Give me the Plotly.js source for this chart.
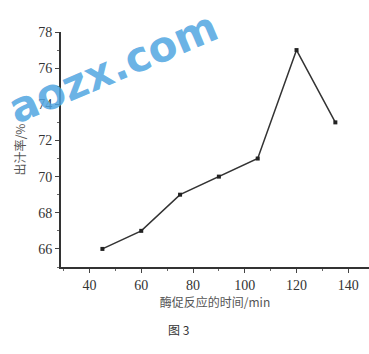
<!DOCTYPE html>
<html>
<head>
<meta charset="utf-8">
<script src="https://cdn.plot.ly/plotly-3.0.1.min.js"></script>
<style>html,body{margin:0;padding:0;background:#fff;}#chart{width:369px;height:354px;}</style>
</head>
<body>
<div id="chart"></div>
<script>
const times = [45, 60, 75, 90, 105, 120, 135];
const juiceYield = [66, 67, 69, 70, 71, 77, 73];
const xTickVals = [40, 60, 80, 100, 120, 140];
const yTickVals = [66, 68, 70, 72, 74, 76, 78];

const serif = "Liberation Serif";
const cjk = "Noto Sans CJK SC";

const trace = {
  x: times, y: juiceYield, type: 'scatter', mode: 'lines+markers',
  line: {color: '#333', width: 1.5},
  marker: {symbol: 'square', size: 4, color: '#222'},
  hoverinfo: 'none'
};

const layout = {
  width: 369, height: 354,
  margin: {l: 61, r: 0, t: 32, b: 87},
  paper_bgcolor: '#fff', plot_bgcolor: '#fff',
  showlegend: false,
  font: {family: serif},
  xaxis: {
    range: [29, 148], tickvals: xTickVals, ticktext: xTickVals.map(String),
    ticks: 'outside', ticklen: 4, tickwidth: 1, tickcolor: '#444',
    minor: {dtick: 10, tick0: 0, ticks: 'outside', ticklen: 2, tickcolor: '#666'},
    showline: true, linecolor: '#333', linewidth: 2, showgrid: false, zeroline: false,
    tickfont: {family: serif, size: 14, color: '#333'},
    title: {text: '酶促反应的时间/min', font: {family: cjk, size: 12, color: '#555'}, standoff: 4}
  },
  yaxis: {
    range: [65, 78], tickvals: yTickVals, ticktext: yTickVals.map(String),
    ticks: 'outside', ticklen: 4, tickwidth: 1, tickcolor: '#444',
    minor: {dtick: 1, tick0: 0, ticks: 'outside', ticklen: 2, tickcolor: '#666'},
    showline: true, linecolor: '#333', linewidth: 2, showgrid: false, zeroline: false,
    tickfont: {family: serif, size: 14, color: '#333'},
    title: {text: '出汁率/%', font: {family: cjk, size: 12, color: '#555'}, standoff: 10}
  },
  annotations: [
    {text: '图 3', xref: 'paper', yref: 'paper', x: 0.38, y: -0.31, showarrow: false,
     font: {family: cjk, size: 12, color: '#333'}},
    {text: '<b>aozx.com</b>', xref: 'paper', yref: 'paper', x: 0.17, y: 0.85,
     xanchor: 'center', yanchor: 'middle', showarrow: false,
     textangle: -23, font: {family: 'DejaVu Sans', size: 42, color: 'rgba(80,165,225,0.85)'}}
  ]
};

Plotly.newPlot('chart', [trace], layout, {staticPlot: true, displayModeBar: false});
</script>
</body>
</html>
